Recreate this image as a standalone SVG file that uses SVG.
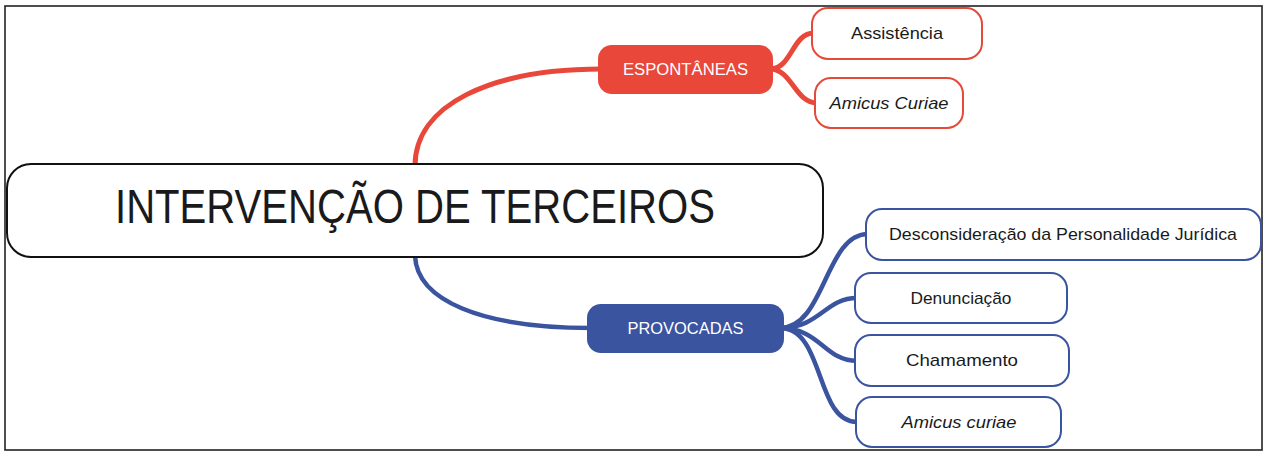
<svg xmlns="http://www.w3.org/2000/svg" width="1268" height="456" viewBox="0 0 1268 456">
<style>
.t{font-family:"Liberation Sans",Arial,sans-serif;fill:#1a1a1a;text-anchor:middle}
.leafR{fill:#fff;stroke:#e5493a;stroke-width:2}
.leafB{fill:#fff;stroke:#3b54a0;stroke-width:2}
.cR{fill:none;stroke:#e8473a;stroke-width:5;stroke-linecap:round}
.cB{fill:none;stroke:#3b54a0;stroke-width:4.5;stroke-linecap:round}
.lbl{font-size:17px}
.w{fill:#fff;font-size:16px}
</style>
<rect x="0" y="0" width="1268" height="456" fill="#fff"/>
<rect x="5" y="6" width="1257" height="444" fill="none" stroke="#222" stroke-width="1.6"/>
<g id="connectors">
<path class="cR" d="M415,166 C415,105 490,69 602,69"/>
<path class="cB" d="M415,256 C417,300 480,328 592,328"/>
<path class="cR" d="M770,69 C792,69 792,33 814,33"/>
<path class="cR" d="M770,69 C792,69 795,103 817,103"/>
<path class="cB" d="M780,328 C825,328 825,234 868,234"/>
<path class="cB" d="M780,328 C820,328 825,298 857,298"/>
<path class="cB" d="M780,328 C820,328 825,361 857,361"/>
<path class="cB" d="M780,328 C825,328 815,422 857,422"/>
</g>
<g id="main">
<rect x="7" y="164" width="816" height="93" rx="24" fill="#fff" stroke="#111" stroke-width="2"/>
<text class="t" x="415" y="223" font-size="48" textLength="600" lengthAdjust="spacingAndGlyphs">INTERVENÇÃO DE TERCEIROS</text>
</g>
<g id="espontaneas">
<rect x="598" y="45" width="175" height="49" rx="14" fill="#e8473a"/>
<text class="t w" x="685.5" y="75" textLength="125" lengthAdjust="spacingAndGlyphs">ESPONTÂNEAS</text>
</g>
<g id="assistencia">
<rect class="leafR" x="812" y="8" width="170" height="51" rx="16"/>
<text class="t lbl" x="897" y="39" textLength="92" lengthAdjust="spacingAndGlyphs">Assistência</text>
</g>
<g id="amicus-curiae-1">
<rect class="leafR" x="815" y="78" width="148" height="50" rx="16"/>
<text class="t lbl" x="889" y="109" font-style="italic" textLength="119" lengthAdjust="spacingAndGlyphs">Amicus Curiae</text>
</g>
<g id="provocadas">
<rect x="587" y="304" width="197" height="49" rx="14" fill="#3b54a0"/>
<text class="t w" x="685.5" y="334" textLength="116" lengthAdjust="spacingAndGlyphs">PROVOCADAS</text>
</g>
<g id="desconsideracao">
<rect class="leafB" x="866" y="209" width="395" height="51" rx="16"/>
<text class="t lbl" x="1063" y="240" textLength="348" lengthAdjust="spacingAndGlyphs">Desconsideração da Personalidade Jurídica</text>
</g>
<g id="denunciacao">
<rect class="leafB" x="855" y="273" width="212" height="50" rx="16"/>
<text class="t lbl" x="961" y="304" textLength="101" lengthAdjust="spacingAndGlyphs">Denunciação</text>
</g>
<g id="chamamento">
<rect class="leafB" x="855" y="335" width="214" height="51" rx="16"/>
<text class="t lbl" x="962" y="366" textLength="112" lengthAdjust="spacingAndGlyphs">Chamamento</text>
</g>
<g id="amicus-curiae-2">
<rect class="leafB" x="856" y="397" width="205" height="50" rx="16"/>
<text class="t lbl" x="959" y="428" font-style="italic" textLength="115" lengthAdjust="spacingAndGlyphs">Amicus curiae</text>
</g>
</svg>
